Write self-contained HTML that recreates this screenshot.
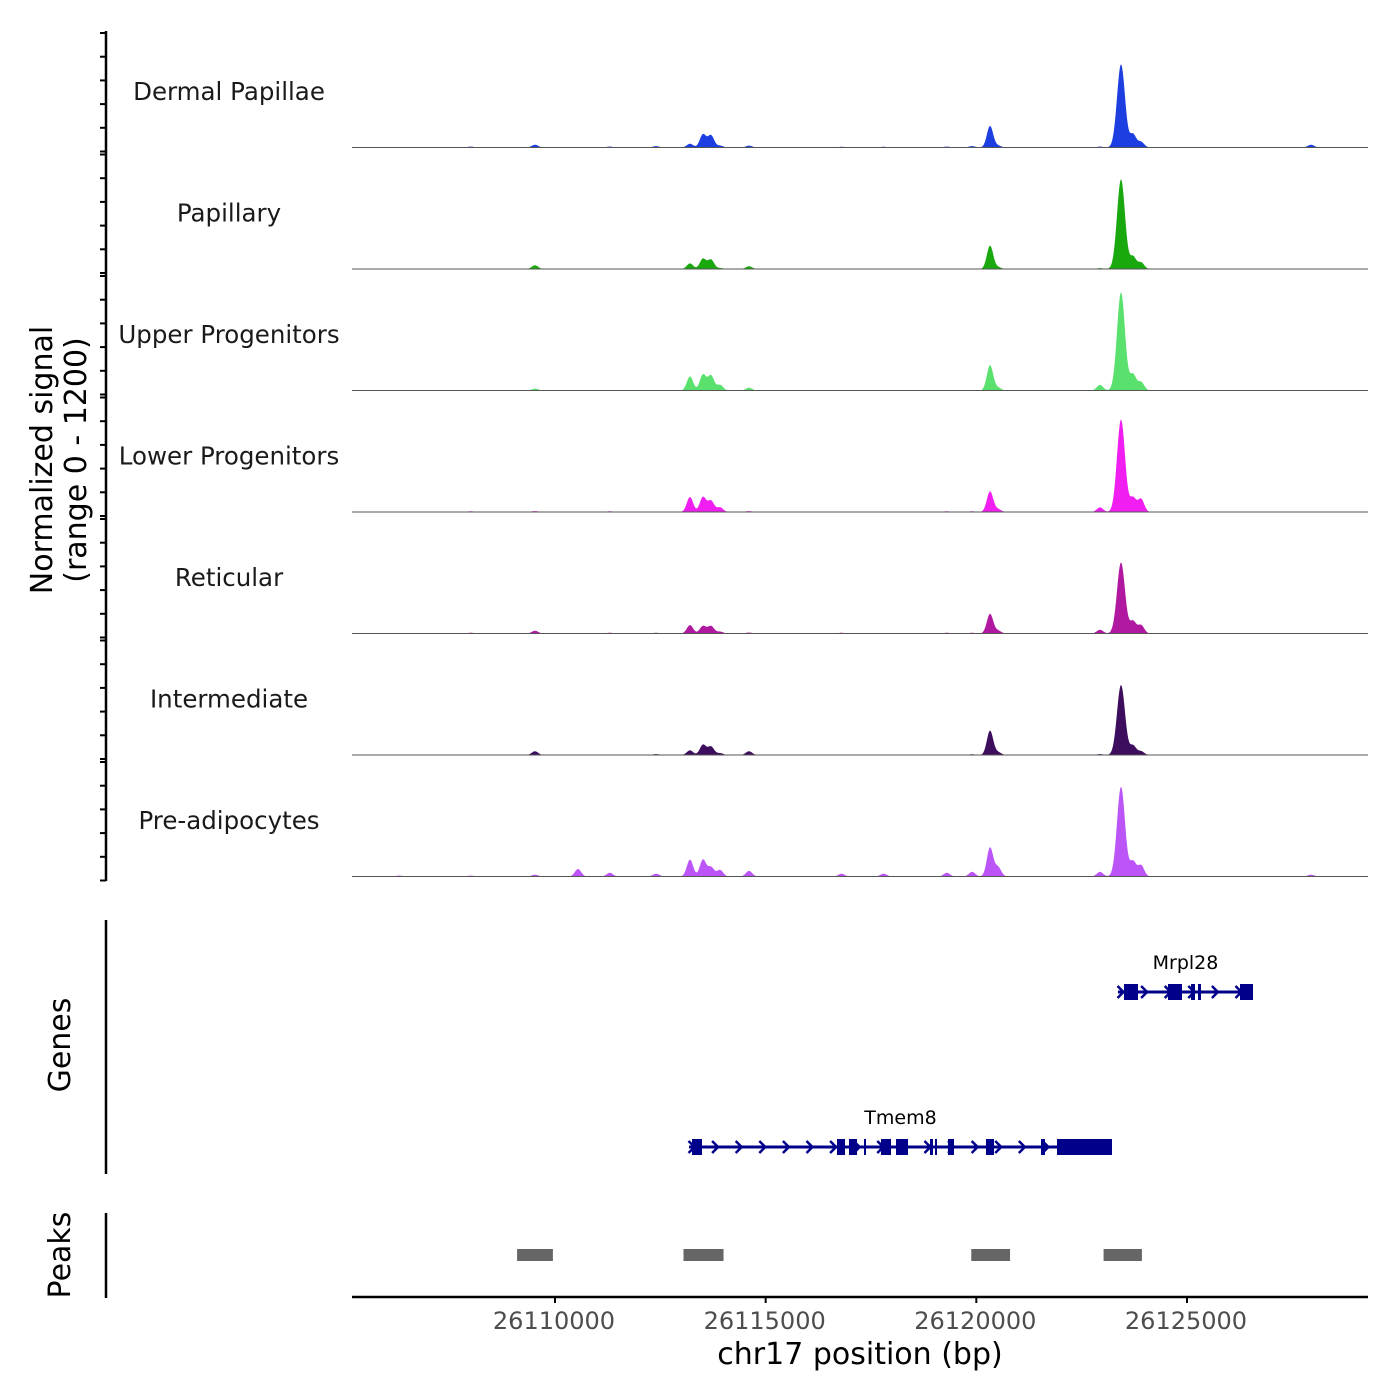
<!DOCTYPE html>
<html><head><meta charset="utf-8"><style>
html,body{margin:0;padding:0;background:#fff;}
svg{display:block;font-family:"DejaVu Sans","Liberation Sans",sans-serif;}
</style></head><body>
<svg id="chart" width="1400" height="1400" viewBox="0 0 1400 1400" xmlns="http://www.w3.org/2000/svg">
<g id="tracks"></g>
<g id="genes"></g>
<g id="peaks"></g>
<g id="axes"></g>
</svg>
<script>
const trackNames = ["Dermal Papillae","Papillary","Upper Progenitors","Lower Progenitors","Reticular","Intermediate","Pre-adipocytes"];
const trackColors = ["#1d3ee0","#1aa80f","#5ae06c","#f01ef0","#b0189f","#3d0d5e","#bb55f7"];
const peakPositions = [26109525,26110546,26113204,26113512,26113702,26113916,26114604,26120325,26120515,26122935,26123434,26123719,26123909,26127944,26106300,26108000,26111300,26112400,26116800,26117800,26119300,26119900];
const trackValues = [
 [30,0,40,140,130,20,20,230,20,10,890,140,60,30,5,10,10,15,8,8,10,15],
 [40,0,60,110,100,10,30,250,20,10,960,130,70,0,3,5,5,5,3,3,5,5],
 [20,0,150,170,160,60,30,270,30,60,1050,170,90,0,3,5,5,5,3,3,5,5],
 [10,0,160,160,120,50,10,220,30,50,990,150,140,0,5,8,8,5,5,5,8,8],
 [30,0,90,80,80,20,10,210,30,40,760,130,90,0,3,8,8,8,8,5,8,8],
 [40,0,50,110,90,20,40,260,30,10,750,100,40,0,5,5,5,10,5,5,5,8],
 [20,80,180,180,100,70,60,310,100,50,960,160,120,20,10,10,40,30,30,30,40,50]
];
const xTicks = [26110000,26115000,26120000,26125000];
const xDomain = [26105182,26129296];
const mrpl28Exons = [[26123505,26123837],[26124549,26124881],[26125095,26125190],[26125261,26125332],[26126258,26126567]];
const mrpl28Span = [26123362,26126567];
const tmem8Exons = [[26113251,26113489],[26116693,26116883],[26116978,26117168],[26117334,26117381],[26117737,26117975],[26118093,26118378],[26118900,26118971],[26119019,26119066],[26119327,26119470],[26120229,26120419],[26121535,26121630],[26121915,26123220]];
const tmem8Span = [26113180,26123220];
const peakRegions = [[26109100,26109950],[26113050,26114000],[26119880,26120800],[26123020,26123930]];

const NS="http://www.w3.org/2000/svg";
function el(tag,attrs,parent){const e=document.createElementNS(NS,tag);for(const k in attrs)e.setAttribute(k,attrs[k]);parent.appendChild(e);return e;}
const X0=352,X1=1368;
function xs(bp){return X0+(bp-xDomain[0])/(xDomain[1]-xDomain[0])*(X1-X0);}
const trackTop=32, trackH=121.5, yMax=1200, plotH=112;
function ys(v,base){return base - v/yMax*plotH;}

const gT=document.getElementById('tracks');
trackNames.forEach((name,i)=>{
  const base=trackTop+trackH*(i+1)-6;
  let d="M"+X0+","+base;
  for(let px=X0;px<=X1;px+=0.5){
    const bp=xDomain[0]+(px-X0)/(X1-X0)*(xDomain[1]-xDomain[0]);
    let v=0;
    peakPositions.forEach((p,j)=>{const s=(j===10)?95:75;const z=(bp-p)/s;v+=trackValues[i][j]*Math.exp(-0.5*z*z);});
    d+=" L"+px.toFixed(1)+","+ys(v,base).toFixed(2);
  }
  d+=" L"+X1+","+base+" Z";
  const p=el('path',{d:d,fill:trackColors[i]},gT);
  
  
  const bl=el('line',{x1:X0,x2:X1,y1:base,y2:base,stroke:'#555','stroke-width':1},gT);
  
  
  const t=el('text',{x:229,y:trackTop+trackH*i+68,'text-anchor':'middle','font-size':24.5,fill:'#1a1a1a'},gT);
  t.textContent=name;
  
  
});

const gG=document.getElementById('genes');
function drawGene(name,span,exons,y){
  const ln=el('line',{x1:xs(span[0]),x2:xs(span[1]),y1:y,y2:y,stroke:'#00008b','stroke-width':3},gG);
  
  
  for(let bp=span[0]+60;bp<span[1];bp+=560){
    const x=xs(bp);
    const a=el('path',{d:`M${x-3},${y-6} L${x+3},${y} L${x-3},${y+6}`,stroke:'#00008b','stroke-width':2.5,fill:'none'},gG);
    
    
  }
  exons.forEach(e=>{
    const r=el('rect',{x:xs(e[0]),y:y-8,width:Math.max(2,xs(e[1])-xs(e[0])),height:16,fill:'#00008b'},gG);
    
    
  });
  const t=el('text',{x:(xs(span[0])+xs(span[1]))/2,y:y-23,'text-anchor':'middle','font-size':19,fill:'#000'},gG);
  t.textContent=name;
  
  
}
drawGene('Mrpl28',mrpl28Span,mrpl28Exons,992);
drawGene('Tmem8',tmem8Span,tmem8Exons,1147);

const gP=document.getElementById('peaks');
peakRegions.forEach(r=>{
  const b=el('rect',{x:xs(r[0]),y:1249,width:xs(r[1])-xs(r[0]),height:12,fill:'#666'},gP);
  
  
});

const gA=document.getElementById('axes');
function line(x1,y1,x2,y2,w,name){const l=el('line',{x1,y1,x2,y2,stroke:'#000','stroke-width':w},gA);return l;}
line(106,31,106,881,2.5,'signal-y-axis');
for(let i=0;i<7;i++){
  for(let k=0;k<=5;k++){
    const y=trackTop+trackH*i+1+k*(trackH-3)/5;
    line(100,y,106,y,2,'y-tick');
  }
}
line(106,920,106,1174,2.5,'genes-axis');
line(106,1213,106,1298,2.5,'peaks-axis');
line(352,1297,1368,1297,2.5,'x-axis');
xTicks.forEach(v=>{
  line(xs(v),1297,xs(v),1303,2,'x-tick');
  const t=el('text',{x:xs(v)-1,y:1329,'text-anchor':'middle','font-size':24,fill:'#4d4d4d'},gA);
  t.textContent=v;
  
  
});
const xt=el('text',{x:860,y:1364,'text-anchor':'middle','font-size':30,fill:'#000'},gA);
xt.textContent='chr17 position (bp)';


const yt=el('text',{transform:'translate(52,460) rotate(-90)','text-anchor':'middle','font-size':30,fill:'#000'},gA);


const s1=el('tspan',{x:0,dy:0},yt);s1.textContent='Normalized signal';
const s2=el('tspan',{x:0,dy:34},yt);s2.textContent='(range 0 - 1200)';
[['Genes',1045,'genes-axis-title'],['Peaks',1255,'peaks-axis-title']].forEach(a=>{
  const t=el('text',{transform:`translate(70,${a[1]}) rotate(-90)`,'text-anchor':'middle','font-size':30,fill:'#000'},gA);
  t.textContent=a[0];
  
  
});
</script>
</body></html>
